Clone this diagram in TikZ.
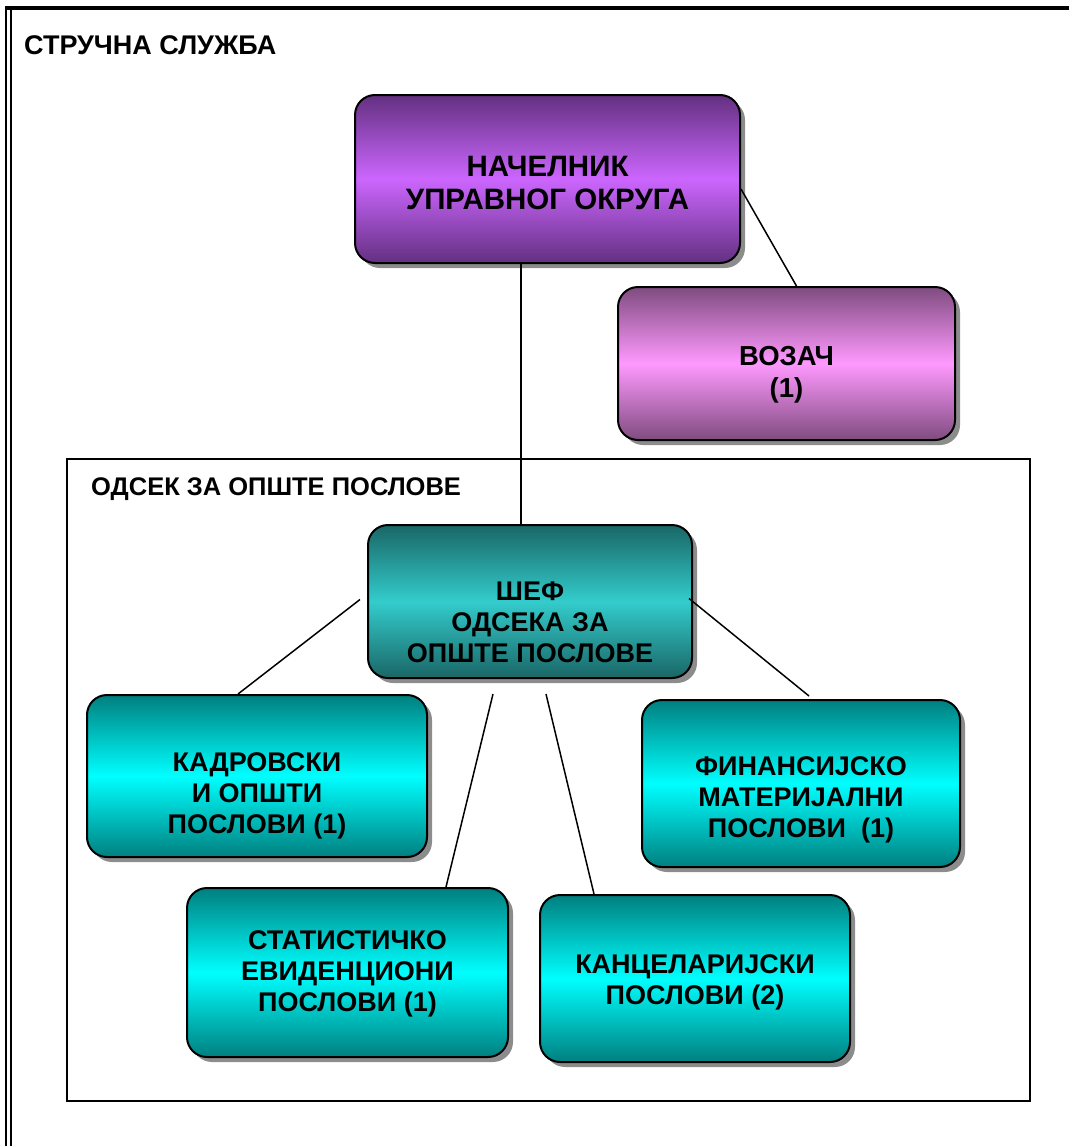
\documentclass[tikz,border=0pt]{standalone}
\usepackage{fontspec}
\setmainfont{Liberation Sans}
\usetikzlibrary{shadows,calc}
\definecolor{purpmid}{HTML}{CC66FF}
\definecolor{purpedge}{HTML}{633080}
\definecolor{pinkmid}{HTML}{FF99FF}
\definecolor{pinkedge}{HTML}{7F4C7F}
\definecolor{tealmid}{HTML}{33CCCC}
\definecolor{tealedge}{HTML}{1A6666}
\definecolor{cyanmid}{HTML}{00FFFF}
\definecolor{cyanedge}{HTML}{007F7F}
\newcommand\bxt[2]{\raisebox{#1}[0pt][0pt]{\begin{tabular}{@{}c@{}}#2\end{tabular}}}
\tikzset{
  orgbox/.style={draw=black, line width=2pt, rounded corners=20pt, inner sep=0pt,
    drop shadow={shadow xshift=5pt, shadow yshift=-5pt, fill=black!45, opacity=1},
    font=\bfseries\fontsize{27}{31}\selectfont},
  purplebox/.style={orgbox, top color=purpedge, bottom color=purpedge, middle color=purpmid},
  pinkbox/.style={orgbox, top color=pinkedge, bottom color=pinkedge, middle color=pinkmid},
  tealbox/.style={orgbox, top color=tealedge, bottom color=tealedge, middle color=tealmid},
  cyanbox/.style={orgbox, top color=cyanedge, bottom color=cyanedge, middle color=cyanmid},
  conn/.style={draw=black, line width=1.5pt},
  heading/.style={anchor=base west, inner sep=0pt, font=\bfseries\fontsize{27}{31}\selectfont}
}
\begin{document}
\begin{tikzpicture}[x=1pt,y=-1pt]
\useasboundingbox (0,0) rectangle (1069,1146);
% outer frame
\draw[line width=4pt] (5,8) -- (1069,8);
\draw[line width=1.7pt] (6,6) -- (6,1146);
\draw[line width=1.7pt] (11,10) -- (11,1146);
\node[heading] (title) at (24,54) {СТРУЧНА СЛУЖБА};
% section frame
\node[draw=black, line width=2pt, minimum width=963pt, minimum height=642pt, inner sep=0pt] (sect) at (548.5,780) {};
\node[heading, font=\bfseries\fontsize{25.5}{30}\selectfont] (secttitle) at (91,495) {ОДСЕК ЗА ОПШТЕ ПОСЛОВЕ};
% boxes
\node[purplebox, minimum width=385pt, minimum height=168pt, font=\bfseries\fontsize{29.5}{33}\selectfont] (nach) at (547.5,179) {\bxt{-13.75pt}{НАЧЕЛНИК\\УПРАВНОГ ОКРУГА}};
\node[pinkbox, minimum width=337pt, minimum height=153pt, font=\bfseries\fontsize{27.5}{32}\selectfont] (voz) at (786.5,363.5) {\bxt{-17.75pt}{ВОЗАЧ\\(1)}};
\node[tealbox, minimum width=324pt, minimum height=153pt] (shef) at (530,601.5) {\bxt{-30.5pt}{ШЕФ\\ОДСЕКА ЗА\\ОПШТЕ ПОСЛОВЕ}};
\node[cyanbox, minimum width=340pt, minimum height=162pt] (kad) at (257,776) {\bxt{-26.5pt}{КАДРОВСКИ\\И ОПШТИ\\ПОСЛОВИ (1)}};
\node[cyanbox, minimum width=318pt, minimum height=167pt] (fin) at (801,783.5) {\bxt{-23.5pt}{ФИНАНСИЈСКО\\МАТЕРИЈАЛНИ\\ПОСЛОВИ\ \ (1)}};
\node[cyanbox, minimum width=321pt, minimum height=169pt] (stat) at (347.5,972.5) {\bxt{-8pt}{СТАТИСТИЧКО\\ЕВИДЕНЦИОНИ\\ПОСЛОВИ (1)}};
\node[cyanbox, minimum width=310pt, minimum height=167pt] (kanc) at (695,978.5) {\bxt{-10.5pt}{КАНЦЕЛАРИЈСКИ\\ПОСЛОВИ (2)}};
% connectors
\coordinate (vx) at (521,0);
\draw[conn] (nach.south -| vx) -- (shef.north -| vx);
\draw[conn] ($(nach.east)+(0,10)$) -- ($(voz.north)+(10,0)$);
\draw[conn] ($(shef.west)+(-7,-2)$) -- ($(kad.north)+(-19,0)$);
\draw[conn] ($(shef.east)+(-4,-3)$) -- ($(fin.north)+(8,-3)$);
\draw[conn] ($(shef.south)+(-37,15)$) -- ($(stat.north)+(98.5,0)$);
\draw[conn] ($(shef.south)+(16,15)$) -- ($(kanc.north)+(-101,0)$);
\end{tikzpicture}
\end{document}
